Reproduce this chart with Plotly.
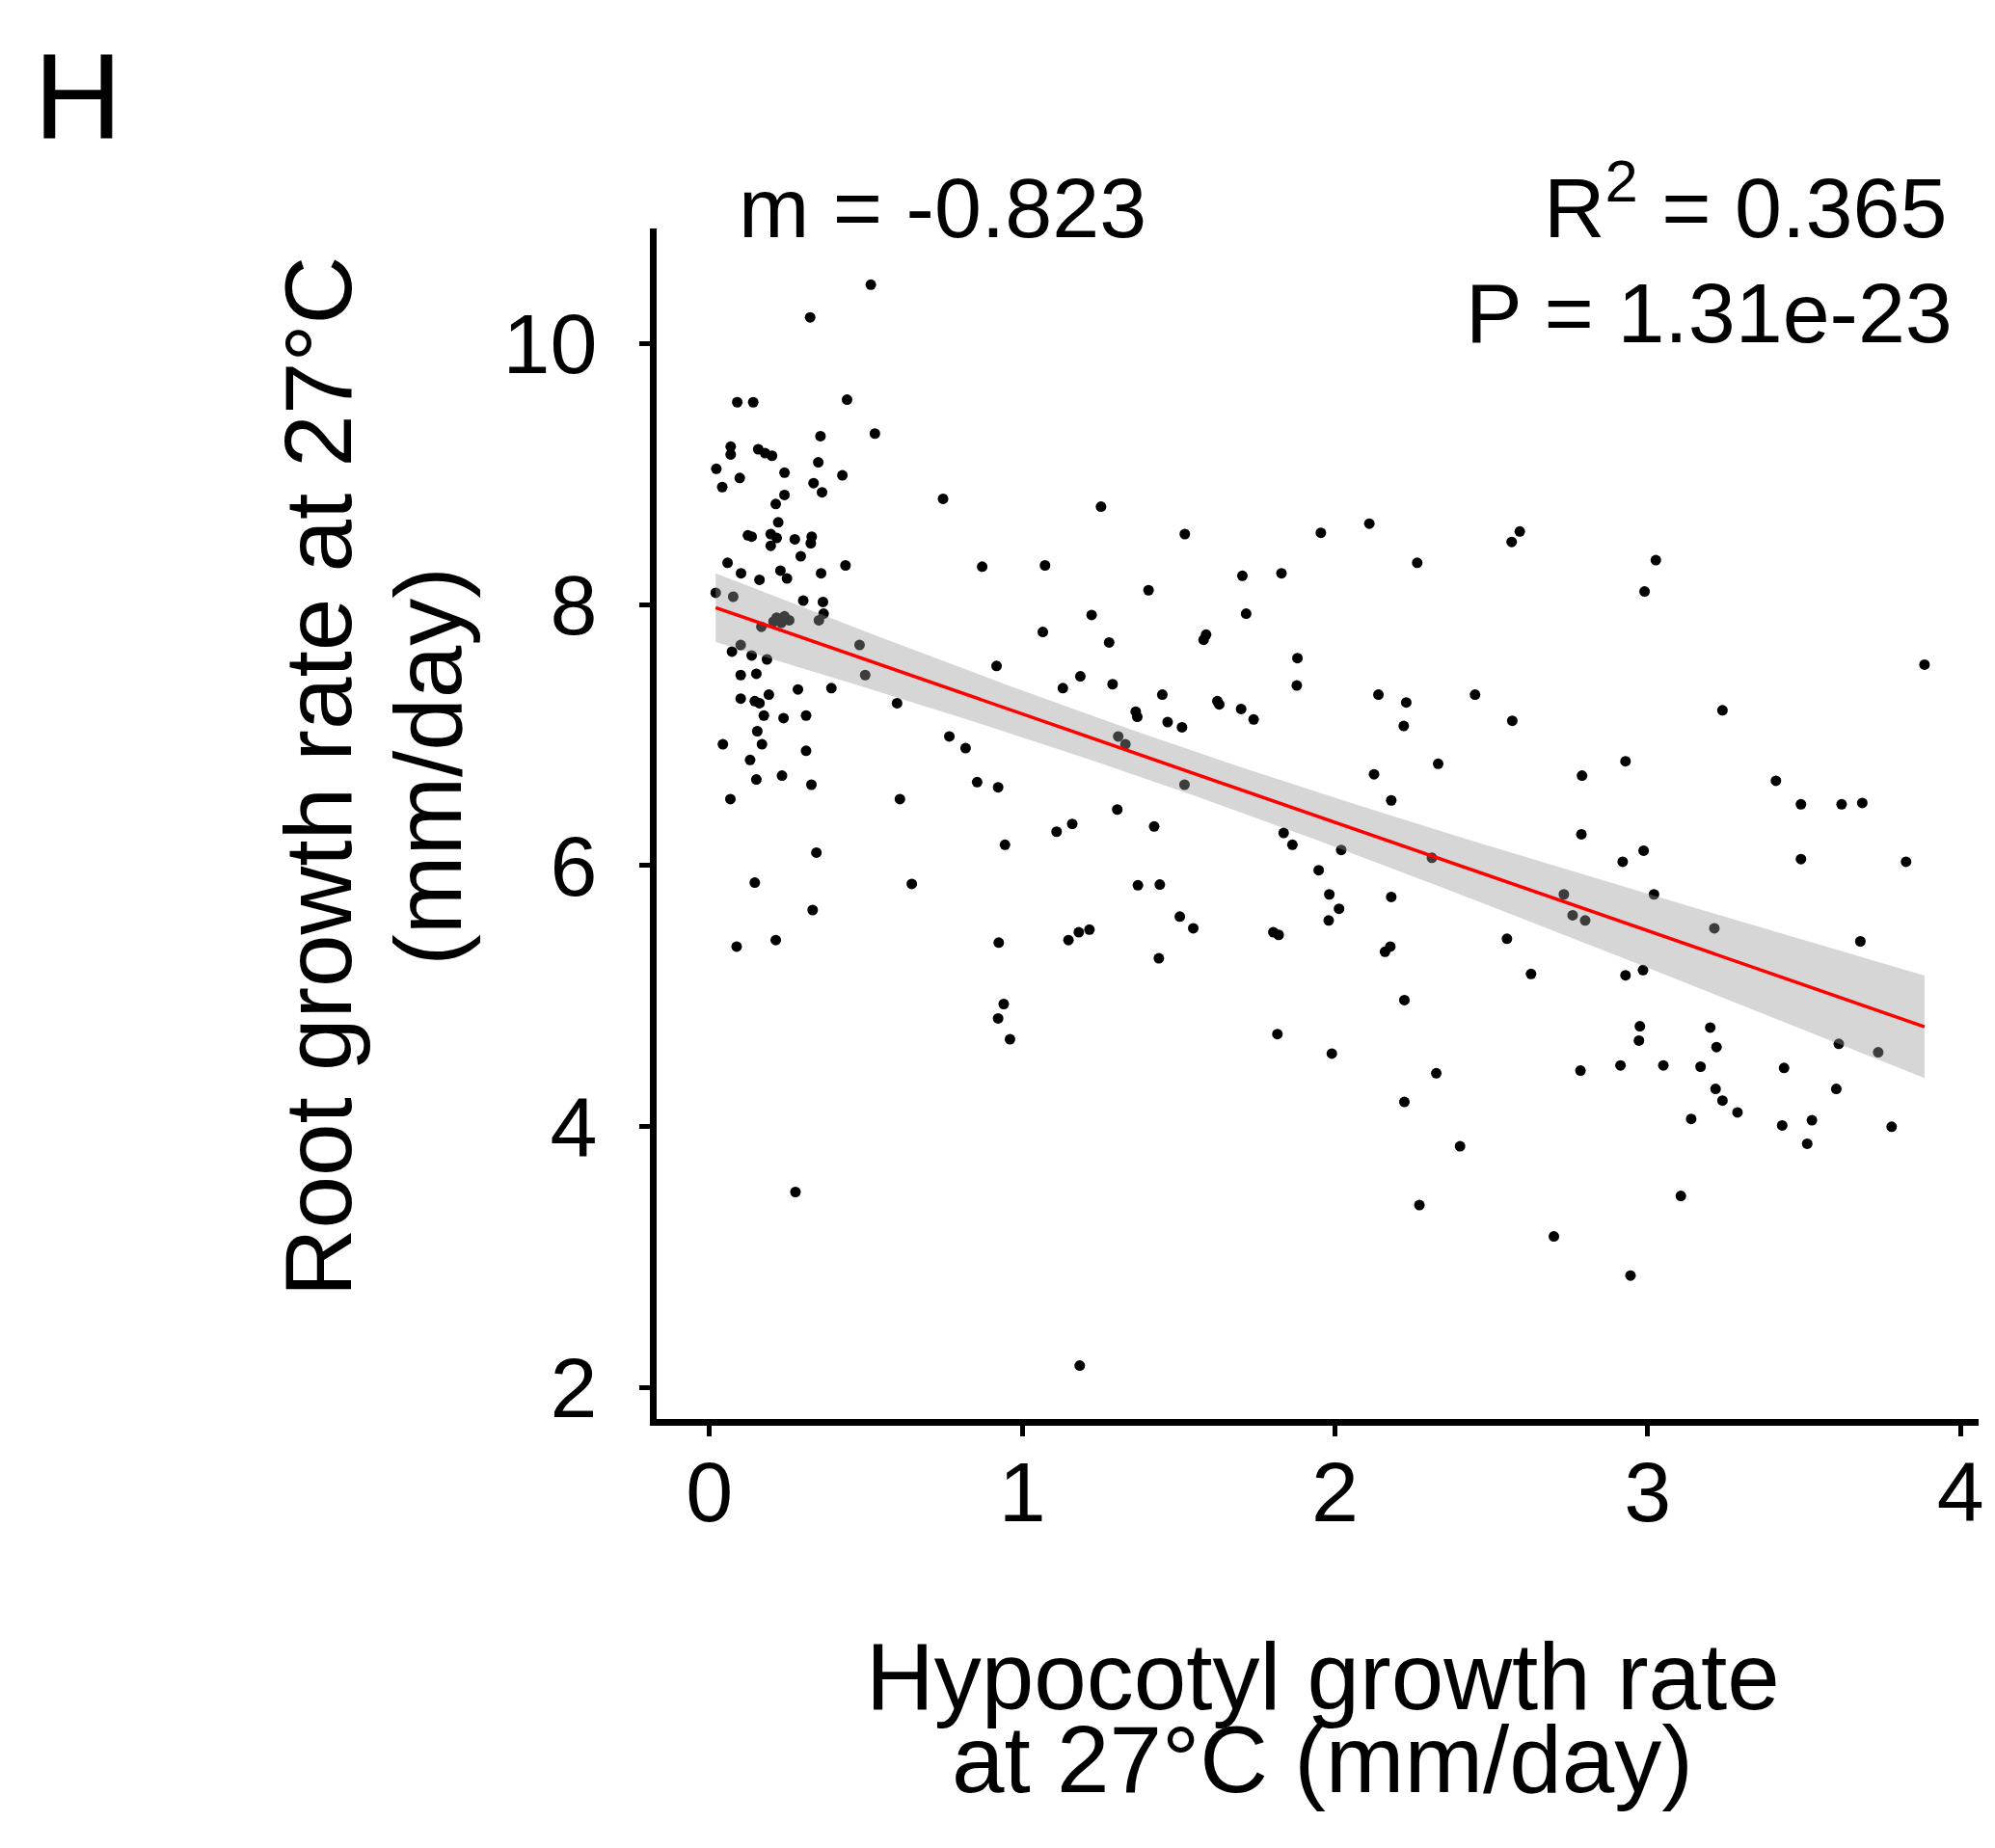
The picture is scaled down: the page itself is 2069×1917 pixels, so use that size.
import numpy as np
import plotly.graph_objects as go

# Hypocotyl growth rate at 27°C (mm/day)
x_hyp = [
    0.516, 0.322, 0.089, 0.140, 0.44, 0.529, 0.355, 0.068, 0.068, 0.156, 0.178, 0.20, 0.022, 0.097, 0.041,
    0.24, 0.348, 0.425, 0.333, 0.36, 0.24, 0.212, 0.747, 0.22, 0.123, 0.135, 0.196, 0.215, 0.196, 0.273,
    0.327, 0.324, 0.292, 0.058, 0.101, 0.16, 0.227, 0.248, 0.357, 0.435, 0.02, 0.076, 0.30, 0.363, 0.365,
    0.35, 0.215, 0.24, 0.255, 0.23, 0.205, 0.166, 0.48, 0.10, 0.072, 0.135, 0.184, 0.10, 0.15, 0.498,
    0.10, 0.145, 0.16, 0.19, 0.283, 0.39, 0.60, 0.174, 0.237, 0.309, 0.153, 0.043, 0.168, 0.309, 0.13,
    0.15, 0.232, 0.326, 0.067, 0.609, 0.342, 0.145, 0.647, 0.33, 0.212, 0.087,
    0.275, 1.184,
    1.252, 1.52, 1.955, 0.872, 1.073, 1.704, 1.829, 1.404, 1.222, 1.716, 1.066, 1.278, 1.588, 1.58, 1.88, 0.918,
    1.186, 1.13, 1.289, 1.448, 1.878, 1.624, 1.63, 1.70, 1.74, 1.363, 1.368, 1.465, 1.511, 1.307, 1.33,
    0.767, 0.819, 0.856, 0.923, 1.519, 1.304, 1.16, 1.11, 1.422, 0.945, 1.836, 1.864, 2.02, 1.948, 1.982,
    2.013, 1.98, 1.37, 1.44, 1.504, 1.547, 1.215, 1.181, 1.148, 0.925, 1.803, 1.82, 1.437, 0.941, 0.923,
    0.961, 1.816, 1.99,
    2.11, 2.263, 2.591, 2.565, 3.026, 2.99,
    2.139, 2.228, 2.22, 2.448, 2.567, 2.33, 2.125, 2.929, 2.79, 2.18, 2.788, 2.987, 2.92, 2.31, 3.02,
    2.732, 2.76, 2.80, 2.18, 2.177, 2.16, 2.55, 2.627, 2.929, 2.985, 2.222, 2.975, 2.972,
    3.885,
    3.239, 3.41, 3.49, 3.62, 3.686, 3.49, 3.826, 3.213, 3.68, 3.20, 3.22, 3.611, 3.737,
    2.324, 2.222, 2.40, 2.27, 2.785, 2.913, 3.05, 3.169, 3.436, 3.217, 3.239, 3.287, 3.139, 3.603, 3.43,
    3.525, 3.51, 3.78, 2.70, 2.945, 3.106,
]

# Root growth rate at 27°C (mm/day)
y_root = [
    10.45, 10.20, 9.55, 9.55, 9.57, 9.31, 9.29, 9.21, 9.15, 9.19, 9.16, 9.14, 9.04, 8.97, 8.90,
    9.01, 9.09, 8.99, 8.93, 8.86, 8.84, 8.77, 8.81, 8.63, 8.53, 8.52, 8.54, 8.51, 8.45, 8.50,
    8.52, 8.47, 8.37, 8.32, 8.24, 8.19, 8.26, 8.20, 8.24, 8.30, 8.09, 8.06, 8.03, 8.02, 7.93,
    7.88, 7.90, 7.91, 7.88, 7.86, 7.87, 7.83, 7.69, 7.69, 7.64, 7.61, 7.58, 7.46, 7.47, 7.46,
    7.28, 7.26, 7.245, 7.31, 7.35, 7.36, 7.245, 7.15, 7.13, 7.15, 7.03, 6.93, 6.93, 6.88, 6.81,
    6.66, 6.69, 6.62, 6.51, 6.51, 6.10, 5.87, 5.86, 5.66, 5.43, 5.38,
    3.50, 2.17,
    8.75, 8.54, 8.55, 8.29, 8.30, 8.22, 8.24, 8.11, 7.92, 7.93, 7.79, 7.71, 7.77, 7.73, 7.59, 7.53,
    7.45, 7.36, 7.39, 7.31, 7.38, 7.26, 7.235, 7.20, 7.12, 7.18, 7.14, 7.10, 7.06, 6.99, 6.93,
    6.99, 6.90, 6.64, 6.60, 6.62, 6.43, 6.32, 6.26, 6.30, 6.16, 6.25, 6.16, 6.12, 5.965, 5.78,
    5.67, 5.58, 5.85, 5.855, 5.61, 5.52, 5.51, 5.49, 5.43, 5.41, 5.49, 5.47, 5.29, 4.94, 4.83,
    4.67, 4.71, 4.56,
    8.62, 8.32, 8.56, 8.48, 8.34, 8.10,
    7.31, 7.25, 7.07, 7.31, 7.11, 6.78, 6.70, 6.80, 6.69, 6.50, 6.24, 6.115, 6.03, 6.06, 5.78,
    5.78, 5.62, 5.58, 5.76, 5.38, 5.34, 5.44, 5.17, 5.16, 5.20, 4.97, 4.77, 4.66,
    7.54,
    7.19, 6.65, 6.47, 6.47, 6.48, 6.05, 6.03, 5.52, 5.42, 4.76, 4.61, 4.635, 4.57,
    4.41, 4.19, 3.85, 3.40, 4.43, 4.47, 4.47, 4.46, 4.45, 4.29, 4.20, 4.11, 4.06, 4.29, 4.01,
    4.05, 3.87, 4.00, 3.16, 2.86, 3.47,
]

x_ticks = [0, 1, 2, 3, 4]
y_ticks = [2, 4, 6, 8, 10]
stat_m = "m = -0.823"
stat_r2 = "R<sup>2</sup> = 0.365"
stat_p = "P = 1.31e-23"
panel_label = "H"
x_title = ["Hypocotyl growth rate", "at 27°C (mm/day)"]
y_title = ["Root growth rate at 27°C", "(mm/day)"]

# linear fit with 95% confidence band (like geom_smooth(method='lm'))
x = np.array(x_hyp)
y = np.array(y_root)
slope, intercept = np.polyfit(x, y, 1)
xs = np.linspace(x.min(), x.max(), 100)
yhat = intercept + slope * xs
n = len(x)
resid = y - (intercept + slope * x)
s = np.sqrt(np.sum(resid ** 2) / (n - 2))
sxx = np.sum((x - x.mean()) ** 2)
se = s * np.sqrt(1.0 / n + (xs - x.mean()) ** 2 / sxx)
tval = 1.97
lo = yhat - tval * se
hi = yhat + tval * se

W, H = 2069, 1917
L, R, T, B = 681, 2058, 237, 1472
FONT = "Liberation Sans, Arial, Helvetica, sans-serif"


def px(v):
    return (v - L) / (R - L)


def py(v):
    return (B - v) / (B - T)


fig = go.Figure()
fig.add_trace(go.Scatter(x=x, y=y, mode="markers",
                         marker=dict(color="black", size=11, line=dict(width=0)),
                         hoverinfo="skip"))
fig.add_trace(go.Scatter(x=np.concatenate([xs, xs[::-1]]),
                         y=np.concatenate([hi, lo[::-1]]),
                         mode="lines", fill="toself",
                         fillcolor="rgba(153,153,153,0.4)",
                         line=dict(width=0), hoverinfo="skip"))
fig.add_trace(go.Scatter(x=xs, y=yhat, mode="lines",
                         line=dict(color="#FF0000", width=3.5), hoverinfo="skip"))

axis_common = dict(showline=True, linecolor="black", linewidth=7,
                   ticks="outside", ticklen=11, tickwidth=5, tickcolor="black",
                   showgrid=False, zeroline=False,
                   tickfont=dict(size=88, color="black", family=FONT))
fig.update_xaxes(range=[-0.1688, 4.058], tickvals=x_ticks,
                 ticktext=[str(v) for v in x_ticks], ticklabelstandoff=-18, **axis_common)
fig.update_yaxes(range=[1.761, 10.881], tickvals=y_ticks,
                 ticktext=[str(v) for v in y_ticks], ticklabelstandoff=26, **axis_common)

ann = []
ann.append(dict(text=panel_label, x=px(30), y=py(172), xanchor="left", yanchor="bottom",
                font=dict(size=127)))
ann.append(dict(text=stat_m, x=px(764), y=py(267), xanchor="left", yanchor="bottom",
                font=dict(size=88)))
ann.append(dict(text=stat_r2, x=px(2027), y=py(267), xanchor="right", yanchor="bottom",
                font=dict(size=88)))
ann.append(dict(text=stat_p, x=px(2033), y=py(376), xanchor="right", yanchor="bottom",
                font=dict(size=88)))
ann.append(dict(text=x_title[0], x=px(1375), y=py(1796), xanchor="center", yanchor="bottom",
                font=dict(size=98)))
ann.append(dict(text=x_title[1], x=px(1375), y=py(1882), xanchor="center", yanchor="bottom",
                font=dict(size=98)))
ann.append(dict(text=y_title[0], x=px(386), y=py(805), xanchor="right", yanchor="middle",
                textangle=-90, font=dict(size=98)))
ann.append(dict(text=y_title[1], x=px(500), y=py(795), xanchor="right", yanchor="middle",
                textangle=-90, font=dict(size=98)))
for a in ann:
    a.update(xref="paper", yref="paper", showarrow=False)
    a["font"].update(family=FONT, color="black")

fig.update_layout(width=W, height=H, autosize=False,
                  margin=dict(l=L, r=W - R, t=T, b=H - B, pad=0),
                  plot_bgcolor="white", paper_bgcolor="white",
                  showlegend=False, annotations=ann,
                  font=dict(family=FONT, color="black"))

fig.write_html("out.html", include_plotlyjs=True, full_html=True,
               post_script="document.body.style.margin='0';document.body.style.overflow='hidden';",
               config={"displayModeBar": False})
